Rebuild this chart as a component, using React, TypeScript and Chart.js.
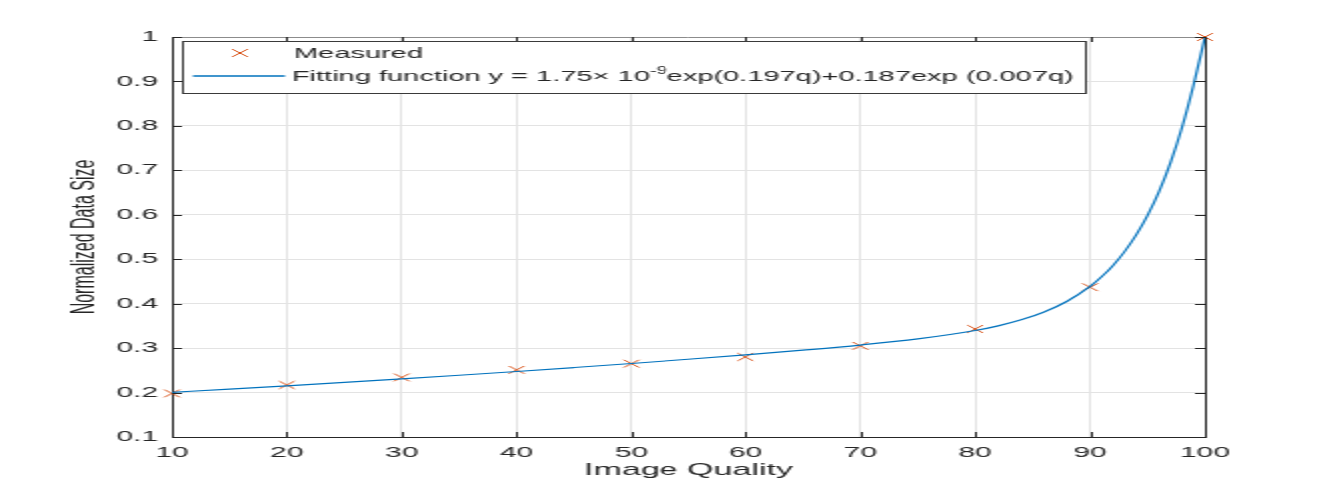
import React, { useEffect, useRef } from "react";
import { Chart, registerables } from "chart.js";

Chart.register(...registerables);

// ---- data ----
const qualityLevels = [10, 20, 30, 40, 50, 60, 70, 80, 90, 100];
const measuredSize = [0.198, 0.217, 0.234, 0.251, 0.265, 0.28, 0.305, 0.343, 0.437, 1.0];

const fitQuality = [10, 15, 20, 25, 30, 35, 40, 45, 50, 55, 60, 65, 70, 75, 80, 82, 84, 86, 88, 90, 91, 92, 93, 94, 95, 96, 97, 98, 99, 100];
const fitSize = [0.2006, 0.2077, 0.2151, 0.2228, 0.2307, 0.2389, 0.2474, 0.2563, 0.2654, 0.2749, 0.2848, 0.2954, 0.3069, 0.3207, 0.3396, 0.3501, 0.3636, 0.3813, 0.4054, 0.4388, 0.4604, 0.4861, 0.5171, 0.5541, 0.5987, 0.6522, 0.7175, 0.7963, 0.8914, 1.0];

const xTicks = [10, 20, 30, 40, 50, 60, 70, 80, 90, 100];
const yTicks = [0.1, 0.2, 0.3, 0.4, 0.5, 0.6, 0.7, 0.8, 0.9, 1];

const xTitle = "Image Quality";
const yTitle = "Normalized Data Size";
const legendMeasured = "Measured";
const legendFitPre = "Fitting function y = 1.75\u00d7 10";
const legendFitSup = "-9";
const legendFitPost = "exp(0.197q)+0.187exp (0.007q)";

// ---- layout ----
const CANVAS_W = 665;
const CANVAS_H = 491;
const STRETCH = 1329 / CANVAS_W;
const FONT = '"Liberation Sans", Arial, Helvetica, sans-serif';
const AXIS_COLOR = "#262626";
const MEASURED_COLOR = "#D95319";
const FIT_COLOR = "#0072BD";

const framePlugin = {
  id: "matlabFrame",
  afterDatasetsDraw(chart: any) {
    const { ctx, chartArea, scales } = chart;
    const { left, right, top, bottom } = chartArea;
    const xs = scales.x;
    const ys = scales.y;
    ctx.save();
    // top and right borders
    ctx.lineWidth = 1;
    ctx.strokeStyle = "#8c8c8c";
    ctx.beginPath();
    ctx.moveTo(left, top + 0.5);
    ctx.lineTo(right, top + 0.5);
    ctx.stroke();
    ctx.strokeStyle = AXIS_COLOR;
    ctx.beginPath();
    ctx.moveTo(right + 0.5, top);
    ctx.lineTo(right + 0.5, bottom);
    ctx.stroke();
    // inward ticks
    ctx.strokeStyle = AXIS_COLOR;
    ctx.beginPath();
    for (const v of yTicks) {
      const py = Math.round(ys.getPixelForValue(v)) + 0.5;
      ctx.moveTo(left, py);
      ctx.lineTo(left + 5, py);
      ctx.moveTo(right, py);
      ctx.lineTo(right - 5, py);
    }
    for (const v of xTicks) {
      const px = Math.round(xs.getPixelForValue(v)) + 0.5;
      ctx.moveTo(px, bottom);
      ctx.lineTo(px, bottom - 5);
      ctx.moveTo(px, top);
      ctx.lineTo(px, top + 5);
    }
    ctx.stroke();
    ctx.restore();
  },
  afterDraw(chart: any) {
    const { ctx, chartArea } = chart;
    const bx = chartArea.left + 5.5;
    const by = chartArea.top + 4.5;
    const bw = 452;
    const bh = 52;
    ctx.save();
    ctx.fillStyle = "#ffffff";
    ctx.fillRect(bx, by, bw, bh);
    ctx.strokeStyle = "#3a3a3a";
    ctx.lineWidth = 1;
    ctx.strokeRect(bx, by, bw, bh);

    const row1 = by + 11.5;
    const row2 = by + 34.5;
    // marker sample
    const mx = bx + 28.5;
    const r = 3.9;
    ctx.strokeStyle = MEASURED_COLOR;
    ctx.beginPath();
    ctx.moveTo(mx - r, row1 - r);
    ctx.lineTo(mx + r, row1 + r);
    ctx.moveTo(mx + r, row1 - r);
    ctx.lineTo(mx - r, row1 + r);
    ctx.stroke();
    // line sample
    ctx.strokeStyle = FIT_COLOR;
    ctx.lineWidth = 1.3;
    ctx.beginPath();
    ctx.moveTo(bx + 5, row2);
    ctx.lineTo(bx + 51, row2);
    ctx.stroke();

    // texts
    const tx = bx + 54.5;
    ctx.fillStyle = AXIS_COLOR;
    ctx.textBaseline = "middle";
    ctx.textAlign = "left";
    ctx.font = `14.5px ${FONT}`;
    ctx.fillText(legendMeasured, tx + 1, row1 + 1);
    ctx.fillText(legendFitPre, tx, row2 + 1);
    const w1 = ctx.measureText(legendFitPre).width;
    ctx.font = `10px ${FONT}`;
    ctx.fillText(legendFitSup, tx + w1, row2 - 5);
    const w2 = ctx.measureText(legendFitSup).width;
    ctx.font = `14.5px ${FONT}`;
    ctx.fillText(legendFitPost, tx + w1 + w2, row2 + 1);
    ctx.restore();
  },
};

export default function App() {
  const ref = useRef<HTMLCanvasElement>(null);

  useEffect(() => {
    const canvas = ref.current;
    if (!canvas) return;
    const chart = new Chart(canvas, {
      type: "scatter",
      data: {
        datasets: [
          {
            label: "Fitting function",
            type: "line",
            data: fitQuality.map((q, i) => ({ x: q, y: fitSize[i] })),
            borderColor: FIT_COLOR,
            backgroundColor: FIT_COLOR,
            borderWidth: 1.2,
            pointRadius: 0,
            fill: false,
            cubicInterpolationMode: "monotone",
            order: 0,
          } as any,
          {
            label: legendMeasured,
            data: qualityLevels.map((q, i) => ({ x: q, y: measuredSize[i] })),
            pointStyle: "crossRot",
            pointRadius: 5.5,
            pointBorderWidth: 1,
            borderColor: MEASURED_COLOR,
            backgroundColor: MEASURED_COLOR,
            showLine: false,
            clip: false,
            order: 1,
          } as any,
        ],
      },
      options: {
        animation: false,
        responsive: false,
        maintainAspectRatio: false,
        layout: { padding: { top: 37, right: 62, bottom: 0, left: 0 } },
        plugins: {
          legend: { display: false },
          tooltip: { enabled: false },
        },
        scales: {
          x: {
            type: "linear",
            min: 10,
            max: 100,
            afterBuildTicks: (s: any) => {
              s.ticks = xTicks.map((v) => ({ value: v }));
            },
            afterFit: (s: any) => {
              s.height = 54;
            },
            grid: { color: "#e3e3e3", lineWidth: 1, drawTicks: false },
            border: { display: true, color: AXIS_COLOR, width: 1 },
            ticks: {
              padding: 7,
              color: AXIS_COLOR,
              font: { family: FONT, size: 15 },
              maxRotation: 0,
              autoSkip: false,
              callback: (v: any) => String(v),
            },
            title: {
              display: true,
              text: xTitle,
              color: AXIS_COLOR,
              font: { family: FONT, size: 17 },
              padding: { top: 0, bottom: 10 },
            },
          },
          y: {
            type: "linear",
            min: 0.1,
            max: 1,
            afterBuildTicks: (s: any) => {
              s.ticks = yTicks.map((v) => ({ value: v }));
            },
            afterFit: (s: any) => {
              s.width = 86;
            },
            grid: { color: "#e3e3e3", lineWidth: 1, drawTicks: false },
            border: { display: true, color: AXIS_COLOR, width: 1 },
            ticks: {
              padding: 7,
              color: AXIS_COLOR,
              font: { family: FONT, size: 15 },
              autoSkip: false,
              callback: (v: any) => String(Math.round(Number(v) * 10) / 10),
            },
            title: {
              display: true,
              text: yTitle,
              color: AXIS_COLOR,
              font: { family: FONT, size: 16 },
              padding: { top: 33, bottom: 0 },
            },
          },
        },
      },
      plugins: [framePlugin],
    } as any);
    return () => chart.destroy();
  }, []);

  return (
    <div
      style={{
        position: "absolute",
        left: 0,
        top: 0,
        width: CANVAS_W,
        height: CANVAS_H,
        background: "#ffffff",
        transform: `scaleX(${STRETCH})`,
        transformOrigin: "0 0",
      }}
    >
      <canvas ref={ref} width={CANVAS_W} height={CANVAS_H} style={{ display: "block" }} />
    </div>
  );
}
